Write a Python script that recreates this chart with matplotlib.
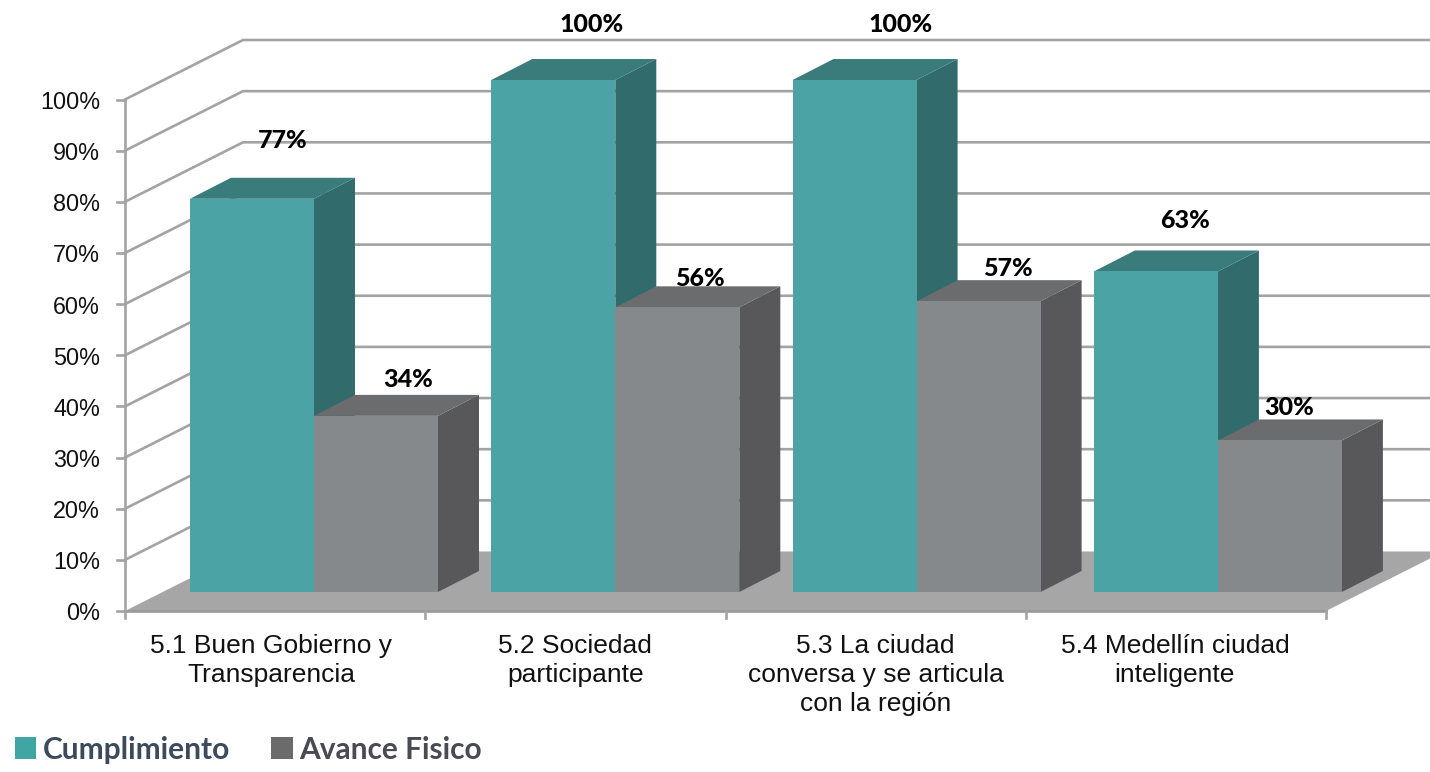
import matplotlib
matplotlib.use("Agg")
import matplotlib.pyplot as plt

categories = ["5.1 Buen Gobierno y\nTransparencia", "5.2 Sociedad\nparticipante",
              "5.3 La ciudad\nconversa y se articula\ncon la región", "5.4 Medellín ciudad\ninteligente"]
# labels show them rounded
cumplimiento = [76.8, 100, 100, 62.6]
avance = [34.4, 55.6, 56.8, 29.6]
ticks = [0, 10, 20, 30, 40, 50, 60, 70, 80, 90, 100]

# layout in image pixels (the 3D look is faked with polygons)
AX_X0, AX_X1 = 125, 1326
AX_Y0, AX_Y100 = 611, 99.5
WALL_DX, WALL_DY = 118, -59.5
BAR_Y0 = 592
BAR_K = 5.12
BAR_W = 124
BAR_X0 = 190
BAR_STEP = 301.3
DEPTH_X, DEPTH_Y = 41, -21

TEAL = ("#4ba3a5", "#316b6c", "#3a7b7b")
GRAY = ("#85898b", "#58585a", "#6a6c6e")
GRID = "#a3a3a3"
LW = 1.9

# label offsets from the top-left of each bar's front face
teal_label_off = [(93, -58), (100, -55), (108, -56), (91, -51)]
gray_label_off = [(94, -36), (85, -29), (91, -33), (71, -33)]
cat_label_off = [81, 84, 83, 81]


def ax_y(v):
    return AX_Y0 - (AX_Y0 - AX_Y100) * v / 100


def draw_bar(ax, x, v, colors):
    top = BAR_Y0 - v * BAR_K
    front, side, lid = colors
    x1 = x + BAR_W
    ax.fill([x1, x1 + DEPTH_X, x1 + DEPTH_X, x1],
            [BAR_Y0, BAR_Y0 + DEPTH_Y, top + DEPTH_Y, top], color=side, lw=0, zorder=3)
    ax.fill([x, x + DEPTH_X, x1 + DEPTH_X, x1],
            [top, top + DEPTH_Y, top + DEPTH_Y, top], color=lid, lw=0, zorder=3)
    ax.fill([x, x1, x1, x], [BAR_Y0, BAR_Y0, top, top], color=front, lw=0, zorder=3)
    return top


fig, ax = plt.subplots(figsize=(14.3, 7.72), dpi=100)
fig.subplots_adjust(0, 0, 1, 1)
ax.set_xlim(0, 1430)
ax.set_ylim(772, 0)
ax.axis("off")

for t in ticks:
    y = ax_y(t)
    if t > 0:
        ax.plot([AX_X0, AX_X0 + WALL_DX, 1430], [y, y + WALL_DY, y + WALL_DY], color=GRID, lw=LW, zorder=1)
    ax.plot([AX_X0 - 8, AX_X0], [y, y], color=GRID, lw=LW, zorder=1)
    ax.text(100, y + 3, f"{t}%", ha="right", va="center", fontsize=16.8,
            family="Liberation Sans", color="#111111")

# floor
ax.fill([AX_X0, AX_X1, AX_X1 + WALL_DX, AX_X0 + WALL_DX],
        [AX_Y0, AX_Y0, AX_Y0 + WALL_DY, AX_Y0 + WALL_DY], color="#a6a6a6", lw=0, zorder=2)

ax.plot([AX_X0, AX_X0], [AX_Y100, AX_Y0], color=GRID, lw=LW, zorder=1)
ax.plot([AX_X0, AX_X1], [AX_Y0, AX_Y0], color="#9a9a9a", lw=LW, zorder=2)
for i in range(len(categories) + 1):
    x = AX_X0 + i * (AX_X1 - AX_X0) / len(categories)
    ax.plot([x, x], [AX_Y0, AX_Y0 + 7], color=GRID, lw=LW, zorder=2)

for i, cat in enumerate(categories):
    x = BAR_X0 + i * BAR_STEP
    top_c = draw_bar(ax, x, cumplimiento[i], TEAL)
    top_a = draw_bar(ax, x + BAR_W, avance[i], GRAY)
    ox, oy = teal_label_off[i]
    ax.text(x + ox, top_c + oy, f"{cumplimiento[i]:.0f}%", ha="center", va="center",
            fontsize=18, fontweight=900, family="Lato", color="black", zorder=5)
    ox, oy = gray_label_off[i]
    ax.text(x + BAR_W + ox, top_a + oy, f"{avance[i]:.0f}%", ha="center", va="center",
            fontsize=18, fontweight=900, family="Lato", color="black", zorder=5)
    ax.text(x + cat_label_off[i], 634, cat, ha="center", va="top", fontsize=19,
            family="Liberation Sans", color="#111111", linespacing=1.25)

# legend, drawn by hand like the pasted one in the source
ax.fill([15, 36, 36, 15], [737, 737, 759, 759], color="#3fa6a4", lw=0)
ax.text(43, 750, "Cumplimiento", ha="left", va="center", fontsize=21.5, fontweight="bold",
        family="Lato", color="#3c4a5c")
ax.fill([271, 293, 293, 271], [737, 737, 759, 759], color="#6b6b6b", lw=0)
ax.text(299, 750, "Avance Fisico", ha="left", va="center", fontsize=21.5, fontweight="bold",
        family="Lato", color="#4a4a55")

fig.savefig("out.png", dpi=100)
